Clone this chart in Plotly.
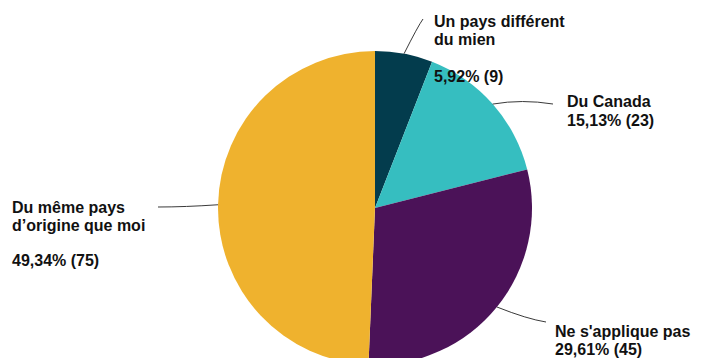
import math
import plotly.graph_objects as go

# Survey answers, in clockwise order starting at 12 o'clock
categories = ["Un pays différent du mien", "Du Canada", "Ne s'applique pas",
              "Du même pays d'origine que moi"]
label_lines = [["Un pays différent", "du mien"],
               ["Du Canada"],
               ["Ne s'applique pas"],
               ["Du même pays", "d’origine que moi"]]
counts = [9, 23, 45, 75]
colors = ["#033c4d", "#36bec0", "#4b1258", "#efb22e"]

# Canvas and pie geometry (pixels)
W, H = 702, 380
CX, CY, R = 375, 208, 157

# Label placement: left edge, baselines of the name lines and of the value line
text_x = [433, 566, 554, 11]
name_baselines = [[27, 45], [107], [337], [213, 231]]
value_baseline = [82, 126, 355, 266]
leader_elbow = [(418, 26), (522, 99), (527, 319), (185, 207)]
leader_end = [(423, 19), (553, 104), (546, 322), (158, 207)]

FONT_SIZE = 16
CAP = 0.72 * FONT_SIZE

total = sum(counts)
pcts = [c / total * 100 for c in counts]


def fmt_pct(p, c):
    return f"{p:.2f}".replace(".", ",") + f"% ({c})"


def px(x):
    return x / W


def py(y):
    return 1 - y / H


fig = go.Figure(go.Pie(
    labels=categories,
    values=counts,
    sort=False,
    direction="clockwise",
    rotation=0,
    marker=dict(colors=colors, line=dict(width=0)),
    textinfo="none",
    hoverinfo="label+percent+value",
    showlegend=False,
    domain=dict(x=[px(CX - R), px(CX + R)], y=[py(CY + R), py(CY - R)]),
))

font = dict(family="Liberation Sans, Arial, sans-serif", size=FONT_SIZE,
            color="#111111", weight="bold")

shapes = []
annotations = []
cum = 0.0
for i, (p, c) in enumerate(zip(pcts, counts)):
    mid = (cum + p / 2) / 100 * 2 * math.pi
    cum += p
    sx = CX + R * math.sin(mid)
    sy = CY - R * math.cos(mid)
    ex, ey = leader_elbow[i]
    tx, ty = leader_end[i]
    path = f"M {px(sx)},{py(sy)} Q {px(ex)},{py(ey)} {px(tx)},{py(ty)}"
    shapes.append(dict(type="path", xref="paper", yref="paper", path=path,
                       line=dict(color="#3a3a3a", width=1)))
    lines = list(zip(label_lines[i], name_baselines[i]))
    lines.append((fmt_pct(p, c), value_baseline[i]))
    for text, base in lines:
        annotations.append(dict(
            x=px(text_x[i]), y=py(base - CAP / 2), xref="paper", yref="paper",
            xanchor="left", yanchor="middle", align="left", showarrow=False,
            text=text, font=font, borderpad=0,
        ))

fig.update_layout(
    width=W, height=H,
    margin=dict(l=0, r=0, t=0, b=0),
    paper_bgcolor="white",
    plot_bgcolor="white",
    shapes=shapes,
    annotations=annotations,
)

fig.write_html(
    "out.html",
    post_script="document.body.style.margin='0';"
                "document.body.style.overflow='hidden';"
                "document.documentElement.style.overflow='hidden';",
)
